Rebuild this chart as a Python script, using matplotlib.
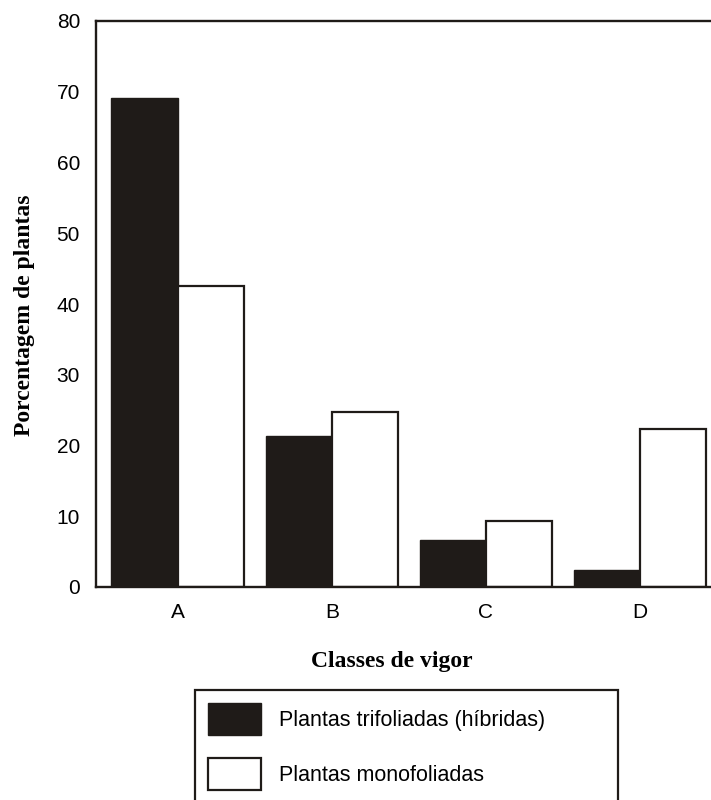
import matplotlib
matplotlib.use('Agg')
import matplotlib.pyplot as plt
import numpy as np

# data
classes = ['A', 'B', 'C', 'D']
trifoliadas = [69.1, 21.4, 6.6, 2.4]     # hibridas (black)
monofoliadas = [42.6, 24.8, 9.3, 22.4]   # white
yticks = [0, 10, 20, 30, 40, 50, 60, 70, 80]

black = '#1f1b18'
sans = 'Liberation Sans'
serif = 'Liberation Serif'


def main():
    fig = plt.figure(figsize=(7.11, 8), dpi=100)
    ax = fig.add_axes([96 / 711, 1 - 587 / 800, 1 - 96 / 711 + 0.002, (587 - 21) / 800])

    x = np.arange(len(classes))
    w = 0.43
    b1 = ax.bar(x - w / 2, trifoliadas, w, color=black, edgecolor=black,
                linewidth=1.0, label='Plantas trifoliadas (híbridas)', zorder=2)
    b2 = ax.bar(x + w / 2, monofoliadas, w, color='white', edgecolor=black,
                linewidth=1.6, label='Plantas monofoliadas', zorder=2)

    ax.set_xlim(-0.53, 3.47)
    ax.set_ylim(0, 80)
    ax.set_xticks(x)
    ax.set_xticklabels(classes, family=sans, fontsize=15)
    ax.set_yticks(yticks)
    ax.set_yticklabels([str(v) for v in yticks], family=sans, fontsize=15)
    ax.tick_params(length=0, pad=11.5)

    for s in ['left', 'top', 'bottom']:
        ax.spines[s].set_linewidth(1.7)
        ax.spines[s].set_color(black)
        ax.spines[s].set_zorder(3)
    ax.spines['right'].set_visible(False)

    fig.text(25 / 711, 1 - 315 / 800, 'Porcentagem de plantas', rotation=90,
             ha='center', va='center', family=serif, fontweight='bold', fontsize=17)
    fig.text(392 / 711, 1 - 661 / 800, 'Classes de vigor',
             ha='center', va='center', family=serif, fontweight='bold', fontsize=17)

    # legend box, bottom runs off the figure like the reference
    leg = fig.legend(handles=[b1, b2], loc='upper left',
                     bbox_to_anchor=(195 / 711, 1 - 690 / 800 - 0.01, (618 - 195) / 711, 0.01),
                     mode='expand', prop={'family': sans, 'size': 15.5},
                     handlelength=2.46, handleheight=1.9, handletextpad=0.8,
                     labelspacing=1.05, borderpad=0.62, borderaxespad=0,
                     fancybox=False, framealpha=1, edgecolor=black)
    leg.get_frame().set_linewidth(1.6)

    fig.savefig('out.png', dpi=100)


if __name__ == '__main__':
    main()
